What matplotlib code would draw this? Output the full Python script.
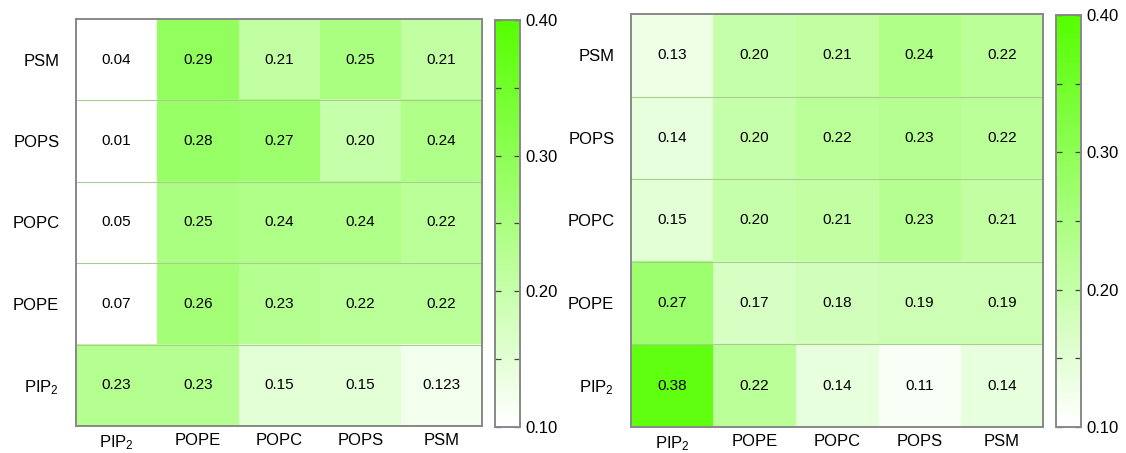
import matplotlib
matplotlib.use("Agg")
import matplotlib.pyplot as plt
import numpy as np
from matplotlib.colors import LinearSegmentedColormap

plt.rcParams["font.family"] = ["Liberation Sans", "DejaVu Sans"]
plt.rcParams["mathtext.default"] = "regular"

rows = ["PSM", "POPS", "POPC", "POPE", "PIP$_2$"]
cols = ["PIP$_2$", "POPE", "POPC", "POPS", "PSM"]

left_vals = [
    [0.04, 0.29, 0.21, 0.25, 0.21],
    [0.01, 0.28, 0.27, 0.20, 0.24],
    [0.05, 0.25, 0.24, 0.24, 0.22],
    [0.07, 0.26, 0.23, 0.22, 0.22],
    [0.23, 0.23, 0.15, 0.15, 0.123],
]
right_vals = [
    [0.13, 0.20, 0.21, 0.24, 0.22],
    [0.14, 0.20, 0.22, 0.23, 0.22],
    [0.15, 0.20, 0.21, 0.23, 0.21],
    [0.27, 0.17, 0.18, 0.19, 0.19],
    [0.38, 0.22, 0.14, 0.11, 0.14],
]

cbar_ticks = [0.10, 0.15, 0.20, 0.25, 0.30, 0.35, 0.40]

cmap = LinearSegmentedColormap.from_list("wg", ["#ffffff", "#55ff00"])


def fmt(v):
    return f"{v:.2f}" if round(v, 2) == v else f"{v:.3f}"


def heatmap(ax, cax, vals):
    data = np.array(vals)
    im = ax.imshow(data, cmap=cmap, vmin=0.10, vmax=0.40, aspect="auto")
    for i in range(data.shape[0]):
        for j in range(data.shape[1]):
            ax.text(j, i, fmt(data[i, j]), ha="center", va="center",
                    fontsize=11, color="black")
    for y in np.arange(0.5, data.shape[0] - 0.5, 1):
        ax.axhline(y, color="#a9cc90", lw=0.8)
    ax.set_xticks(range(len(cols)))
    ax.set_xticklabels(cols, fontsize=12)
    ax.set_yticks(range(len(rows)))
    ax.set_yticklabels(rows, fontsize=12)
    ax.tick_params(axis="y", length=0, pad=12)
    ax.tick_params(axis="x", length=0, pad=5)
    for s in ax.spines.values():
        s.set_color("#888888")
        s.set_linewidth(1.4)

    cb = plt.colorbar(im, cax=cax)
    cb.set_ticks(cbar_ticks)
    cb.set_ticklabels([f"{t:.2f}" if round(t * 10) == t * 10 else "" for t in cbar_ticks])
    cax.tick_params(direction="in", left=True, right=True, length=4,
                    width=0.9, color="#444444", labelsize=12, pad=4)
    cb.outline.set_edgecolor("#888888")
    cb.outline.set_linewidth(1.4)


fig = plt.figure(figsize=(11.26, 4.53), dpi=100)
ax1 = fig.add_axes([0.0675, 0.0596, 0.3606, 0.8985])
cax1 = fig.add_axes([0.4396, 0.0574, 0.0222, 0.8985])
ax2 = fig.add_axes([0.5604, 0.0574, 0.3659, 0.9117])
cax2 = fig.add_axes([0.9378, 0.0574, 0.0222, 0.9095])

heatmap(ax1, cax1, left_vals)
heatmap(ax2, cax2, right_vals)

fig.savefig("out.png", dpi=100, facecolor="white")
